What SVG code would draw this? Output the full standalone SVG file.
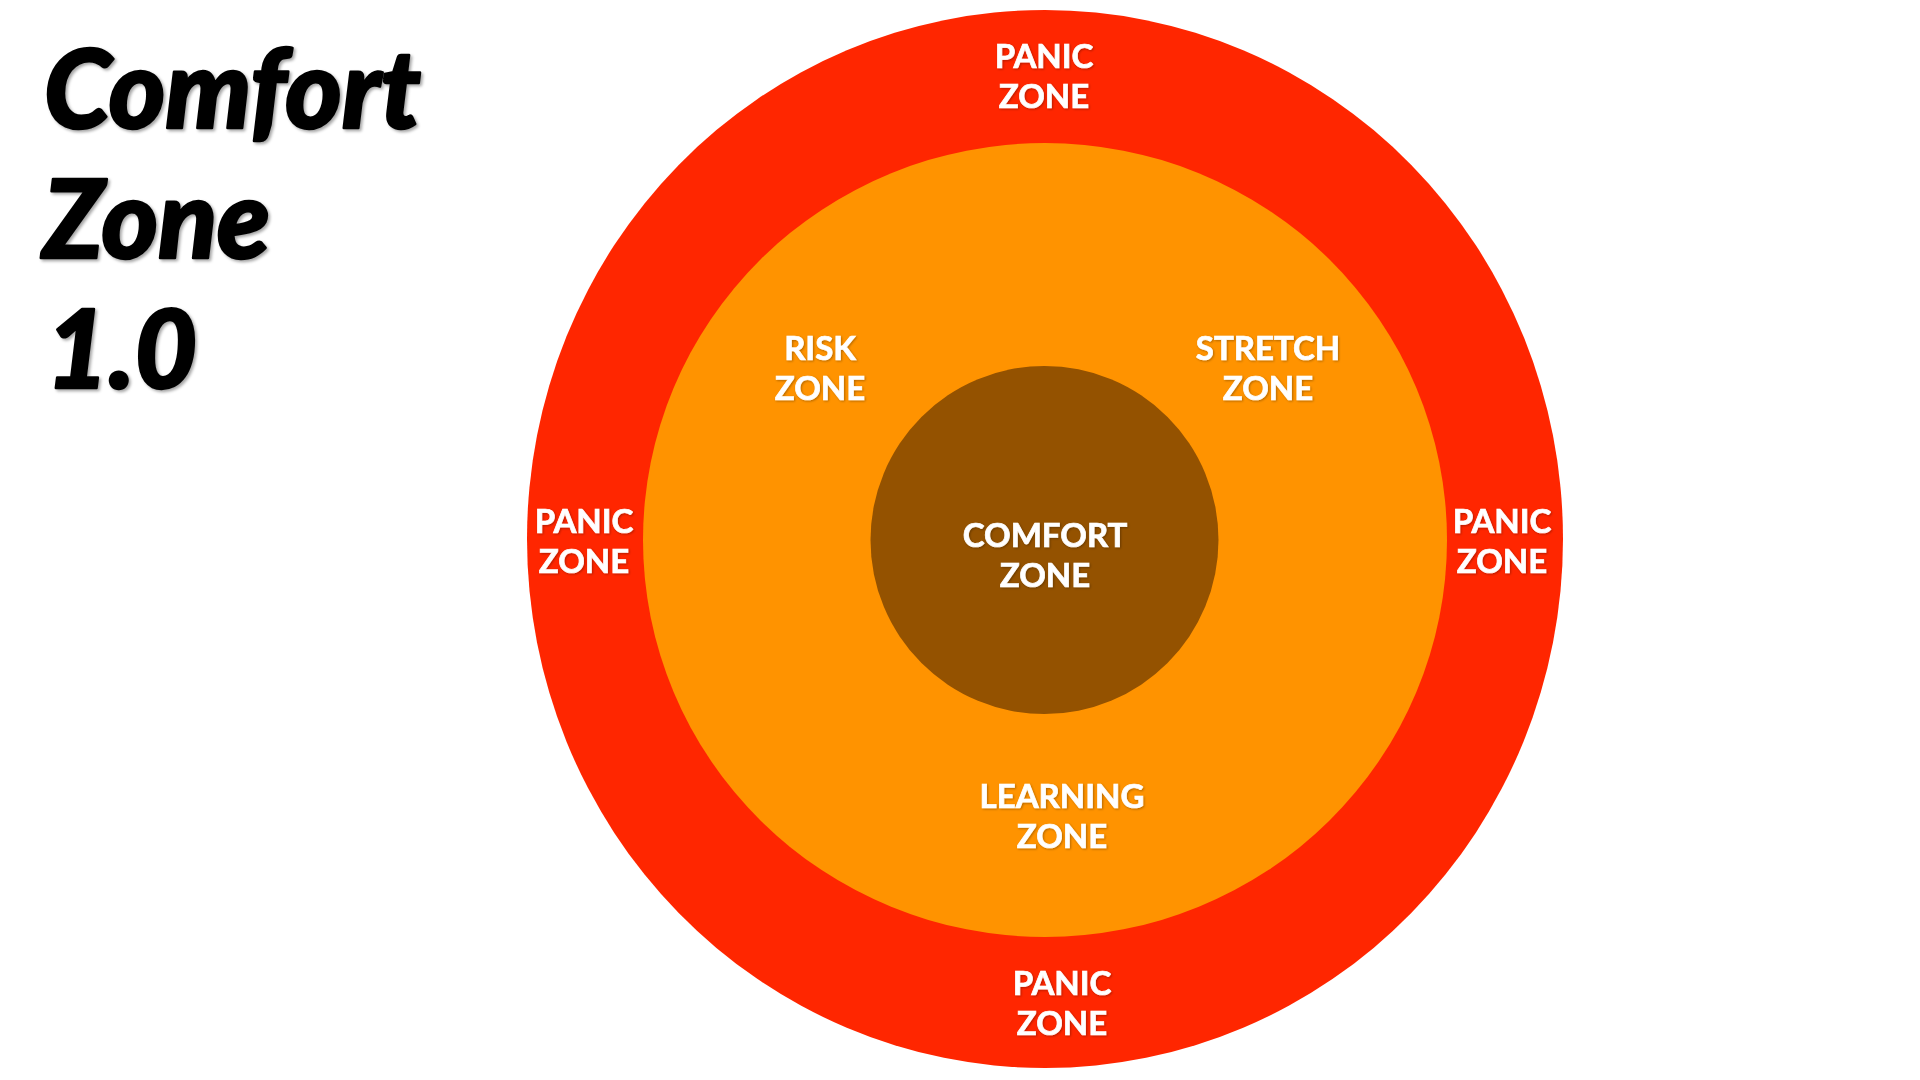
<svg xmlns="http://www.w3.org/2000/svg" width="1920" height="1080" viewBox="0 0 1920 1080">
<defs>
<style>
.lbl{font-family:Lato,"Liberation Sans",sans-serif;font-weight:700;font-size:33px;fill:#fff;stroke:#fff;stroke-width:0.7;text-anchor:middle;filter:url(#ls)}
.title{font-family:Lato,"Liberation Sans",sans-serif;font-weight:900;font-style:italic;font-size:108px;fill:#000;stroke:#000;stroke-width:2.5;stroke-linejoin:round;filter:url(#ts)}
</style>
<filter id="ts" x="-10%" y="-10%" width="120%" height="130%"><feDropShadow dx="2" dy="2" stdDeviation="1.5" flood-color="#000" flood-opacity="0.35"/></filter>
<filter id="ls" x="-10%" y="-10%" width="120%" height="130%"><feDropShadow dx="1" dy="1" stdDeviation="1" flood-color="#000" flood-opacity="0.3"/></filter>
</defs>
<rect width="1920" height="1080" fill="#fff"/>
<g id="title">
<text class="title" x="44" y="128">Comfort</text>
<text class="title" x="43" y="258">Zone</text>
<text class="title" x="46" y="388">1.0</text>
</g>
<g id="panic-zone">
<ellipse cx="1045" cy="539" rx="518" ry="529" fill="#FF2600"/>
<text class="lbl" x="1044" y="68">PANIC</text>
<text class="lbl" x="1044" y="108">ZONE</text>
<text class="lbl" x="584" y="533">PANIC</text>
<text class="lbl" x="584" y="573">ZONE</text>
<text class="lbl" x="1502" y="533">PANIC</text>
<text class="lbl" x="1502" y="573">ZONE</text>
<text class="lbl" x="1062" y="995">PANIC</text>
<text class="lbl" x="1062" y="1035">ZONE</text>
</g>
<g id="learning-zone">
<ellipse cx="1045" cy="540" rx="402" ry="397" fill="#FF9300"/>
<text class="lbl" x="820" y="360">RISK</text>
<text class="lbl" x="820" y="400">ZONE</text>
<text class="lbl" x="1268" y="360">STRETCH</text>
<text class="lbl" x="1268" y="400">ZONE</text>
<text class="lbl" x="1062" y="808">LEARNING</text>
<text class="lbl" x="1062" y="848">ZONE</text>
</g>
<g id="comfort-zone">
<circle cx="1044.5" cy="540" r="174" fill="#945200"/>
<text class="lbl" x="1045" y="547">COMFORT</text>
<text class="lbl" x="1045" y="587">ZONE</text>
</g>
<g id="connectors"/>
</svg>
